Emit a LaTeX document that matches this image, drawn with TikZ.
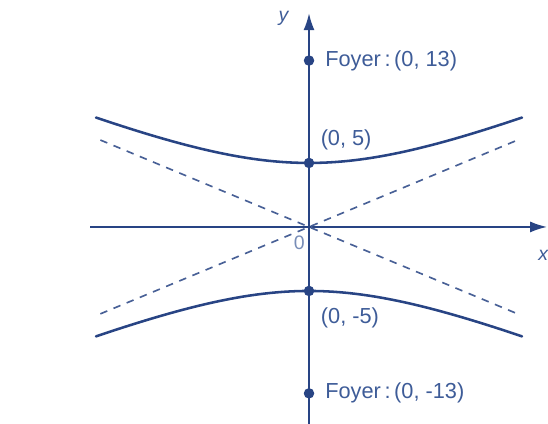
\documentclass[tikz,border=0pt]{standalone}
\usepackage{fontspec}
\setmainfont{Liberation Sans}
\usetikzlibrary{positioning,arrows.meta}
\definecolor{ink}{RGB}{40,68,132}
\definecolor{inktext}{RGB}{62,92,152}

\begin{document}
\begin{tikzpicture}[
  x=0.3cm, y=0.3cm,
  font=\fontsize{14.5}{17}\selectfont,
  axis/.style={draw=ink, line width=1.2pt, -{Latex[length=4mm,width=2.6mm]}},
  branch/.style={draw=ink, line width=1.7pt, line cap=round},
  asym/.style={draw=ink!85, line width=1.1pt, dash pattern=on 5pt off 4.5pt},
  dot/.style={circle, fill=ink, inner sep=0pt, minimum size=7pt},
  lab/.style={text=inktext, inner sep=0pt}
]
\useasboundingbox (-24.14,-15.39) rectangle (18.67,17.73);

% Axes
\coordinate (xl) at (-17.1,0);
\coordinate (xr) at (18.6,0);
\coordinate (yb) at (0,-15.4);
\coordinate (yt) at (0,16.7);
\draw[axis] (xl) -- (xr);
\draw[axis] (yb) -- (yt);
\node[lab, font=\fontsize{13}{15}\selectfont\itshape] (ylab) at (-2.0,16.3) {y};
\node[lab, font=\fontsize{13}{15}\selectfont\itshape] (xlab) at (18.3,-2.2) {x};
\node[lab, text=inktext!70, font=\fontsize{13}{15}\selectfont] (orig) at (-0.75,-1.2) {0};

% Asymptotes y = 5x/12 and y = -5x/12
\coordinate (a1) at (-16.3,6.79);
\coordinate (a2) at (16.3,-6.79);
\coordinate (a3) at (-16.3,-6.79);
\coordinate (a4) at (16.3,6.79);
\draw[asym] (a1) -- (a2);
\draw[asym] (a3) -- (a4);

% Branches of y^2/25 - x^2/144 = 1
\draw[branch] plot[domain=-16.64:16.64, samples=80] (\x, {5*sqrt(1+(\x/12)^2)});
\draw[branch] plot[domain=-16.64:16.64, samples=80] (\x, {-5*sqrt(1+(\x/12)^2)});

% Vertices and foci
\node[dot] (f1) at (0,13) {};
\node[dot] (v1) at (0,5) {};
\node[dot] (v2) at (0,-5) {};
\node[dot] (f2) at (0,-13) {};

\node[lab, right=7pt of f1] (f1lab) {Foyer\,:\,(0, 13)};
\node[lab] (v1lab) at (2.9,6.8) {(0, 5)};
\node[lab] (v2lab) at (3.2,-7.1) {(0, -5)};
\node[lab, right=7pt of f2] (f2lab) {Foyer\,:\,(0, -13)};

\end{tikzpicture}
\end{document}
